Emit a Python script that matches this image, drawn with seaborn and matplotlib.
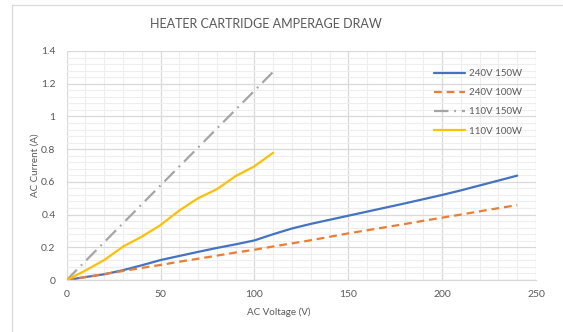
import matplotlib
matplotlib.use("Agg")
import matplotlib.pyplot as plt
from matplotlib.lines import Line2D
from matplotlib.ticker import MultipleLocator
import numpy as np
import pandas as pd
import seaborn as sns

# Measured current draw of heater cartridges at varying AC voltage
volts_240 = [0, 10, 20, 30, 40, 50, 60, 70, 80, 90, 100, 110, 120,
             130, 140, 150, 160, 170, 180, 190, 200, 210, 220, 230, 240]
amps_240v_150w = [0, 0.018, 0.035, 0.06, 0.09, 0.122, 0.147, 0.172, 0.196,
                  0.218, 0.242, 0.28, 0.315, 0.343, 0.368, 0.393, 0.418,
                  0.443, 0.468, 0.494, 0.52, 0.548, 0.578, 0.608, 0.638]
amps_240v_100w = [0, 0.018, 0.036, 0.055, 0.074, 0.092, 0.112, 0.13, 0.149,
                  0.168, 0.185, 0.205, 0.224, 0.243, 0.264, 0.285, 0.304,
                  0.323, 0.342, 0.362, 0.381, 0.4, 0.42, 0.439, 0.458]
volts_110_150w = [0, 110]
amps_110v_150w = [0, 1.273]
volts_110_100w = [0, 10, 20, 30, 40, 50, 60, 70, 80, 90, 100, 110]
amps_110v_100w = [0, 0.058, 0.122, 0.204, 0.265, 0.336, 0.425, 0.5, 0.555,
                  0.635, 0.695, 0.778]

series_names = ["240V 150W", "240V 100W", "110V 150W", "110V 100W"]
series_colors = ["#4472C4", "#ED7D31", "#A5A5A5", "#FFC000"]
y_tick_labels = ["0", "0.2", "0.4", "0.6", "0.8", "1", "1.2", "1.4"]

frames = []
for name, v, a in zip(series_names,
                      [volts_240, volts_240, volts_110_150w, volts_110_100w],
                      [amps_240v_150w, amps_240v_100w, amps_110v_150w, amps_110v_100w]):
    frames.append(pd.DataFrame({"voltage": v, "current": a, "series": name}))
df = pd.concat(frames, ignore_index=True)

sns.set_theme(style="white")
plt.rcParams["font.family"] = ["Lato", "DejaVu Sans"]

W, H = 563, 332
fig = plt.figure(figsize=(W / 100, H / 100), dpi=100)
fig.patch.set_facecolor("white")

x0, x1, y_top, y_bot = 66.7, 536.0, 51.0, 280.0
ax = fig.add_axes([x0 / W, 1 - y_bot / H, (x1 - x0) / W, (y_bot - y_top) / H])

line_styles = {
    "240V 150W": "",
    "240V 100W": (3.5, 2.2),
    "110V 150W": (6.5, 2.6, 0.8, 2.6),
    "110V 100W": "",
}
sns.lineplot(data=df, x="voltage", y="current", hue="series", style="series",
             hue_order=series_names, style_order=series_names,
             palette=dict(zip(series_names, series_colors)),
             dashes=line_styles, linewidth=1.6, sort=False,
             estimator=None, ax=ax, legend=False, zorder=3)

ax.set_xlim(0, 250)
ax.set_ylim(0, 1.4)
ax.xaxis.set_major_locator(MultipleLocator(50))
ax.xaxis.set_minor_locator(MultipleLocator(10))
ax.yaxis.set_minor_locator(MultipleLocator(0.04))
ax.set_yticks(np.arange(0, 1.41, 0.2))
ax.set_yticklabels(y_tick_labels)
ax.grid(True, which="major", color="#D9D9D9", linewidth=0.9, zorder=1)
ax.grid(True, which="minor", color="#EEEEEE", linewidth=0.8, zorder=0)
ax.set_axisbelow(True)
for side in ["top", "right", "left"]:
    ax.spines[side].set_visible(False)
ax.spines["bottom"].set_color("#D9D9D9")
ax.spines["bottom"].set_linewidth(0.9)
ax.tick_params(axis="both", which="both", length=0, labelsize=7.5,
               labelcolor="#595959")
ax.tick_params(axis="x", pad=7)
ax.tick_params(axis="y", pad=8)
ax.set_xlabel("")
ax.set_ylabel("")

fig.text(279 / W, 1 - 312 / H, "AC Voltage (V)", ha="center", va="center",
         fontsize=7.1, color="#595959")
fig.text(35 / W, 1 - 165 / H, "AC Current (A)", ha="center", va="center",
         rotation=90, fontsize=7.1, color="#595959")
fig.text(266 / W, 1 - 24 / H, "HEATER CARTRIDGE AMPERAGE DRAW", ha="center",
         va="center", fontsize=9.0, color="#595959")

handles = []
for n, c in zip(series_names, series_colors):
    h = Line2D([], [], color=c, linewidth=1.6)
    if line_styles[n]:
        h.set_dashes(line_styles[n])
    handles.append(h)
leg = fig.legend(handles, series_names, loc="upper left",
                 bbox_to_anchor=(434 / W, 1 - 69 / H), frameon=False,
                 fontsize=7, handlelength=3.2, handletextpad=0.35,
                 labelspacing=1.05, borderpad=0, borderaxespad=0)
for t in leg.get_texts():
    t.set_color("#595959")

# chart-area border
fig.add_artist(Line2D([12 / W, 12 / W], [0, 1 - 5 / H], transform=fig.transFigure,
                      color="#D9D9D9", linewidth=0.9))
fig.add_artist(Line2D([12 / W, 1], [1 - 5 / H, 1 - 5 / H], transform=fig.transFigure,
                      color="#D9D9D9", linewidth=0.9))

fig.savefig("out.png", dpi=100)
